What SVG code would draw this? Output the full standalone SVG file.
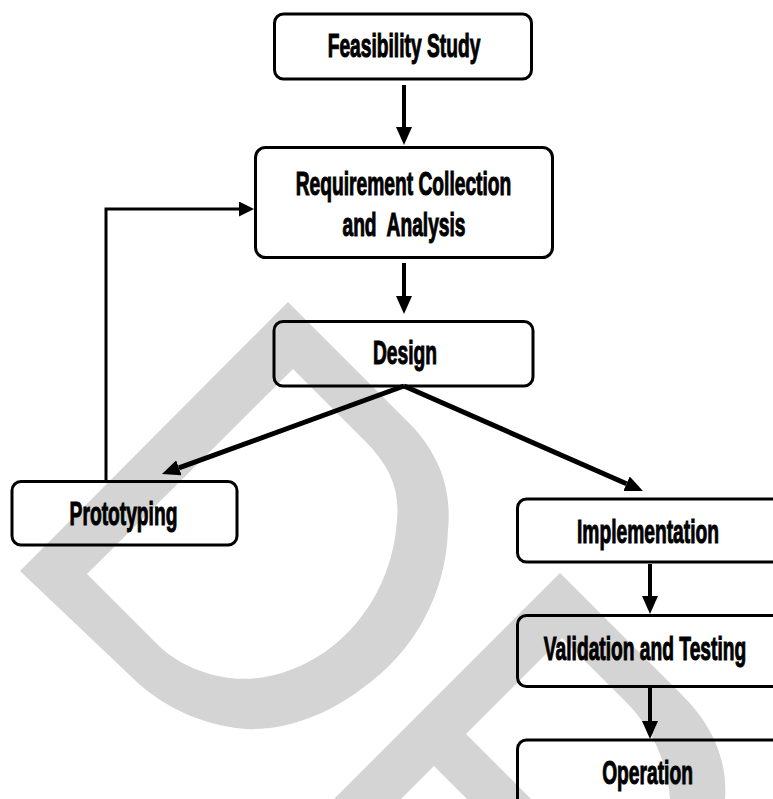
<svg xmlns="http://www.w3.org/2000/svg" width="773" height="799" viewBox="0 0 773 799">
  <style>
    .wm { fill: #d4d4d4; fill-rule: evenodd; }
    .box { fill: none; stroke: #000; stroke-width: 3; }
    .lbl { font-family: "Liberation Sans", Arial, sans-serif; font-weight: bold; font-size: 34px; fill: #000; stroke: #000; stroke-width: 1.1; text-anchor: middle; white-space: pre; }
    .edge { fill: none; stroke: #000; }
  </style>
  <defs>
    <marker id="ah" markerUnits="userSpaceOnUse" markerWidth="18" markerHeight="16" refX="0" refY="8" orient="auto">
      <path d="M0,0 L18,8 L0,16 Z" fill="#000"/>
    </marker>
    <marker id="ah-sm" markerUnits="userSpaceOnUse" markerWidth="15" markerHeight="15" refX="0" refY="7.5" orient="auto">
      <path d="M0,0 L15,7.5 L0,15 Z" fill="#000"/>
    </marker>
  </defs>

  <rect width="773" height="799" fill="#fff"/>

  <!-- background watermark letters -->
  <g id="watermark">
    <path class="wm" d="M288,302 L410,424 C440,455 452,490 448,530 C446,590 418,650 360,690 C320,720 270,735 230,727 C200,722 170,710 140,685 L20,571 Z
                         M293,369 L365,441 C390,466 400,490 397,520 C394,570 370,620 325,652 C295,672 262,682 230,678 C205,675 180,665 160,647 L87,574 Z"/>
    <path class="wm" d="M560,573 L683,696 C712,725 728,760 725,800 L720,830 L303,830 Z
                         M562,638 L625,701 C650,726 668,760 670,800 L670,830 L562,830 L466,734 Z
                         M434,766 L370,830 L498,830 Z"/>
  </g>

  <!-- connectors -->
  <g id="connectors">
    <line class="edge" stroke-width="4" x1="404" y1="85" x2="404" y2="127" marker-end="url(#ah)"/>
    <line class="edge" stroke-width="4" x1="404" y1="263" x2="404" y2="296" marker-end="url(#ah)"/>
    <line class="edge" stroke-width="5" x1="404" y1="386" x2="178.9" y2="467.9" marker-end="url(#ah)"/>
    <line class="edge" stroke-width="5" x1="404" y1="386" x2="626.5" y2="483.8" marker-end="url(#ah)"/>
    <line class="edge" stroke-width="4" x1="650" y1="564" x2="650" y2="596" marker-end="url(#ah)"/>
    <line class="edge" stroke-width="4" x1="650" y1="688" x2="650" y2="721" marker-end="url(#ah)"/>
    <polyline class="edge" stroke-width="3" points="106,480 106,209 239,209" marker-end="url(#ah-sm)"/>
  </g>

  <g id="feasibility">
    <rect class="box" x="274.5" y="14" width="257" height="65" rx="9"/>
    <text class="lbl" transform="translate(404,57) scale(0.565,1)">Feasibility Study</text>
  </g>

  <g id="requirements">
    <rect class="box" x="255.5" y="147.5" width="297" height="110" rx="10"/>
    <text class="lbl" transform="translate(403.5,195) scale(0.565,1)">Requirement Collection</text>
    <text class="lbl" transform="translate(404,236) scale(0.565,1)">and  Analysis</text>
  </g>

  <g id="design">
    <rect class="box" x="274" y="321.5" width="259" height="64.5" rx="9"/>
    <text class="lbl" transform="translate(405,364) scale(0.565,1)">Design</text>
  </g>

  <g id="prototyping">
    <rect class="box" x="12" y="481.5" width="225" height="63.5" rx="9"/>
    <text class="lbl" transform="translate(123.5,525) scale(0.565,1)">Prototyping</text>
  </g>

  <g id="implementation">
    <rect class="box" x="517.5" y="499" width="264" height="63" rx="9"/>
    <text class="lbl" transform="translate(648,543) scale(0.565,1)">Implementation</text>
  </g>

  <g id="validation">
    <rect class="box" x="517.5" y="615.5" width="264" height="71" rx="9"/>
    <text class="lbl" transform="translate(645,660) scale(0.565,1)">Validation and Testing</text>
  </g>

  <g id="operation">
    <rect class="box" x="517.5" y="740" width="264" height="80" rx="9"/>
    <text class="lbl" transform="translate(647.5,784) scale(0.565,1)">Operation</text>
  </g>
</svg>
